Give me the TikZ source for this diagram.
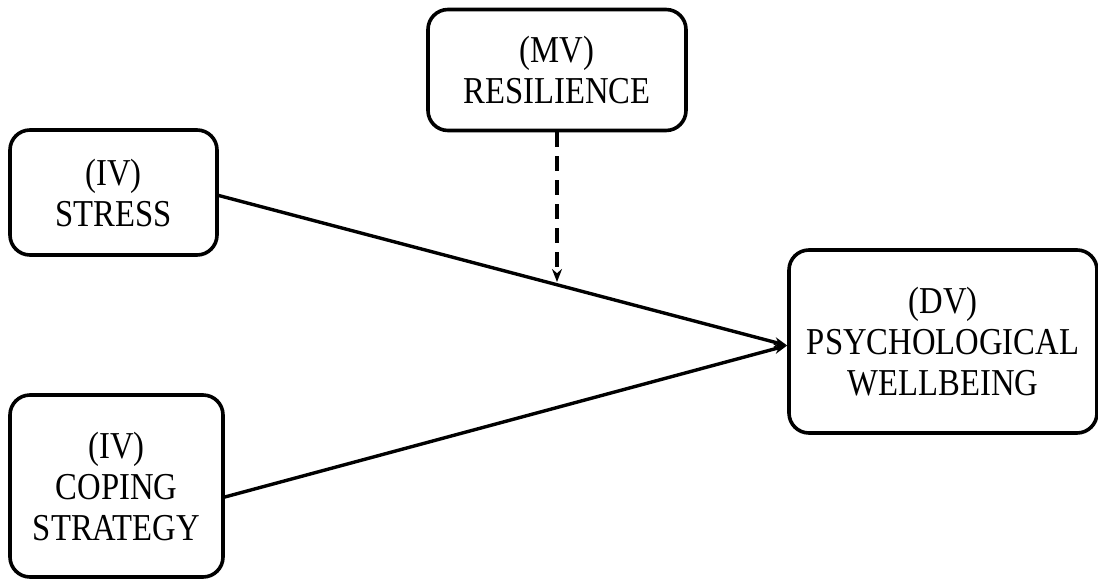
\documentclass[tikz,border=0pt]{standalone}
\usepackage{fontspec}
\setmainfont{Liberation Serif}[FakeStretch=0.86]
\usetikzlibrary{arrows.meta}
\begin{document}
\begin{tikzpicture}[x=1pt,y=-1pt,
  box/.style={draw,line width=3.6pt,rounded corners=20pt,align=center,inner sep=0pt,
    font=\fontsize{38}{41}\selectfont},
  link/.style={line width=3.4pt,-{Stealth[length=13pt,width=10pt]}}]
\useasboundingbox (0,0) rectangle (1098,579);
\node[box,minimum width=258pt,minimum height=121pt] (mv) at (557,70) {(MV)\\RESILIENCE};
\node[box,minimum width=207pt,minimum height=125pt] (s) at (113.5,192.5) {(IV)\\STRESS};
\node[box,minimum width=213pt,minimum height=182pt] (c) at (116.5,486) {(IV)\\COPING\\STRATEGY};
\node[box,minimum width=308pt,minimum height=183pt] (dv) at (943,341.5) {(DV)\\PSYCHOLOGICAL\\WELLBEING};
\coordinate (hit) at (557,282);
\draw[link] ([yshift=-3pt]s.east) -- ([yshift=-4pt]dv.west);
\draw[link] ([yshift=-11pt]c.east) -- ([yshift=-4pt]dv.west);
\draw[line width=3.4pt,dash pattern=on 15pt off 9pt,-{Stealth[length=13pt,width=10pt]}] (mv.south) -- (hit);
\end{tikzpicture}
\end{document}
